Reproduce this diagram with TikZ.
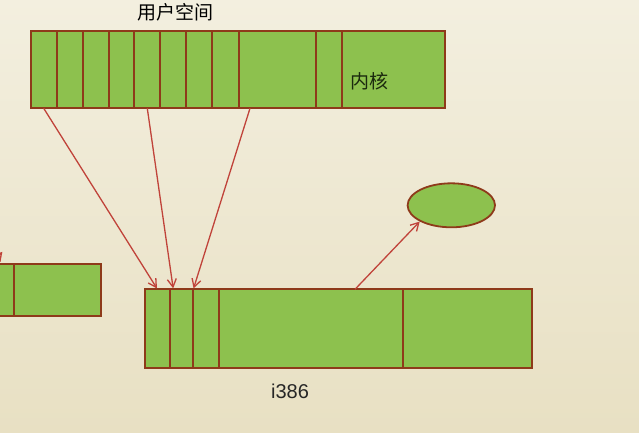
\documentclass[tikz,border=0pt]{standalone}
\usepackage{fontspec}
\setmainfont{Liberation Sans}
\newfontfamily\cjk{Noto Sans CJK SC}
\usetikzlibrary{arrows.meta,shapes.geometric,calc}
\definecolor{bgtop}{HTML}{F3EFDF}
\definecolor{bgbot}{HTML}{E8E0C3}
\definecolor{cellfill}{HTML}{8DC14E}
\definecolor{celldraw}{HTML}{8E3A1A}
\definecolor{arrowred}{HTML}{C0433A}
\definecolor{kerntext}{HTML}{1B2A0E}
\begin{document}
\begin{tikzpicture}[x=1pt,y=-1pt,
  cell/.style={draw=celldraw,fill=cellfill,line width=1.8pt,rectangle,inner sep=0pt,outer sep=0pt,anchor=north west},
  blob/.style={ellipse,draw=celldraw,fill=cellfill,line width=1.8pt,inner sep=0pt,outer sep=0pt},
  link/.style={draw=arrowred,line width=1.3pt,shorten >=1pt,-{Straight Barb[length=8pt,width=9pt,line width=1.3pt]}},
  label/.style={inner sep=0pt}]
\useasboundingbox (0,0) rectangle (639,432);
\fill[top color=bgtop,bottom color=bgbot] (0,0) rectangle (639,432);
\begin{scope}
\clip (0,0) rectangle (639,432);
% top bar
\foreach \a/\b [count=\i] in {30.7/56.7,56.7/82.7,82.7/108.7,108.7/134.3,134.3/160.3,160.3/186.3,186.3/212.3,212.3/238.7,238.7/316,316/341.7,341.7/445}
  \node[cell,minimum width={(\b-\a)*1pt},minimum height=77.6pt] (t\i) at (\a,30.7) {};
% lower bar
\foreach \a/\b [count=\i] in {145/170,170/192.7,192.7/219.3,219.3/402.7,402.7/532}
  \node[cell,minimum width={(\b-\a)*1pt},minimum height=79pt] (b\i) at (\a,289.3) {};
% left partial bar
\foreach \a/\b [count=\i] in {-30/14,14/101}
  \node[cell,minimum width={(\b-\a)*1pt},minimum height=51.4pt] (l\i) at (\a,264.3) {};
% ellipse
\node[blob,minimum width=87.4pt,minimum height=44pt] (ell) at (451.3,205.3) {};
% coordinates
\coordinate (s3) at ($(t9.south west)+(11.3,0)$);
\coordinate (e2) at ($(b2.north west)+(3.3,0)$);
\coordinate (e3) at ($(b3.north west)+(0.6,0)$);
\coordinate (s4) at ($(b4.north west)+(135.7,0)$);
\coordinate (lt) at (3,251);
% arrows
\draw[link] (t1.south) -- (b1.north);
\draw[link] (t5.south) -- (e2);
\draw[link] (s3) -- (e3);
\draw[link] (s4) -- (ell.south west);
\draw[link] (l1.north) -- (lt);
\end{scope}
% labels
\node[label,font=\cjk\fontsize{19}{19}\selectfont] (lu) at (175.5,12) {用户空间};
\node[label,font=\cjk\fontsize{19}{19}\selectfont,text=kerntext] (lk) at (369,81) {内核};
\node[label,font=\fontsize{20}{20}\selectfont,text=black!85] (li) at (290,391) {i386};
\end{tikzpicture}
\end{document}
